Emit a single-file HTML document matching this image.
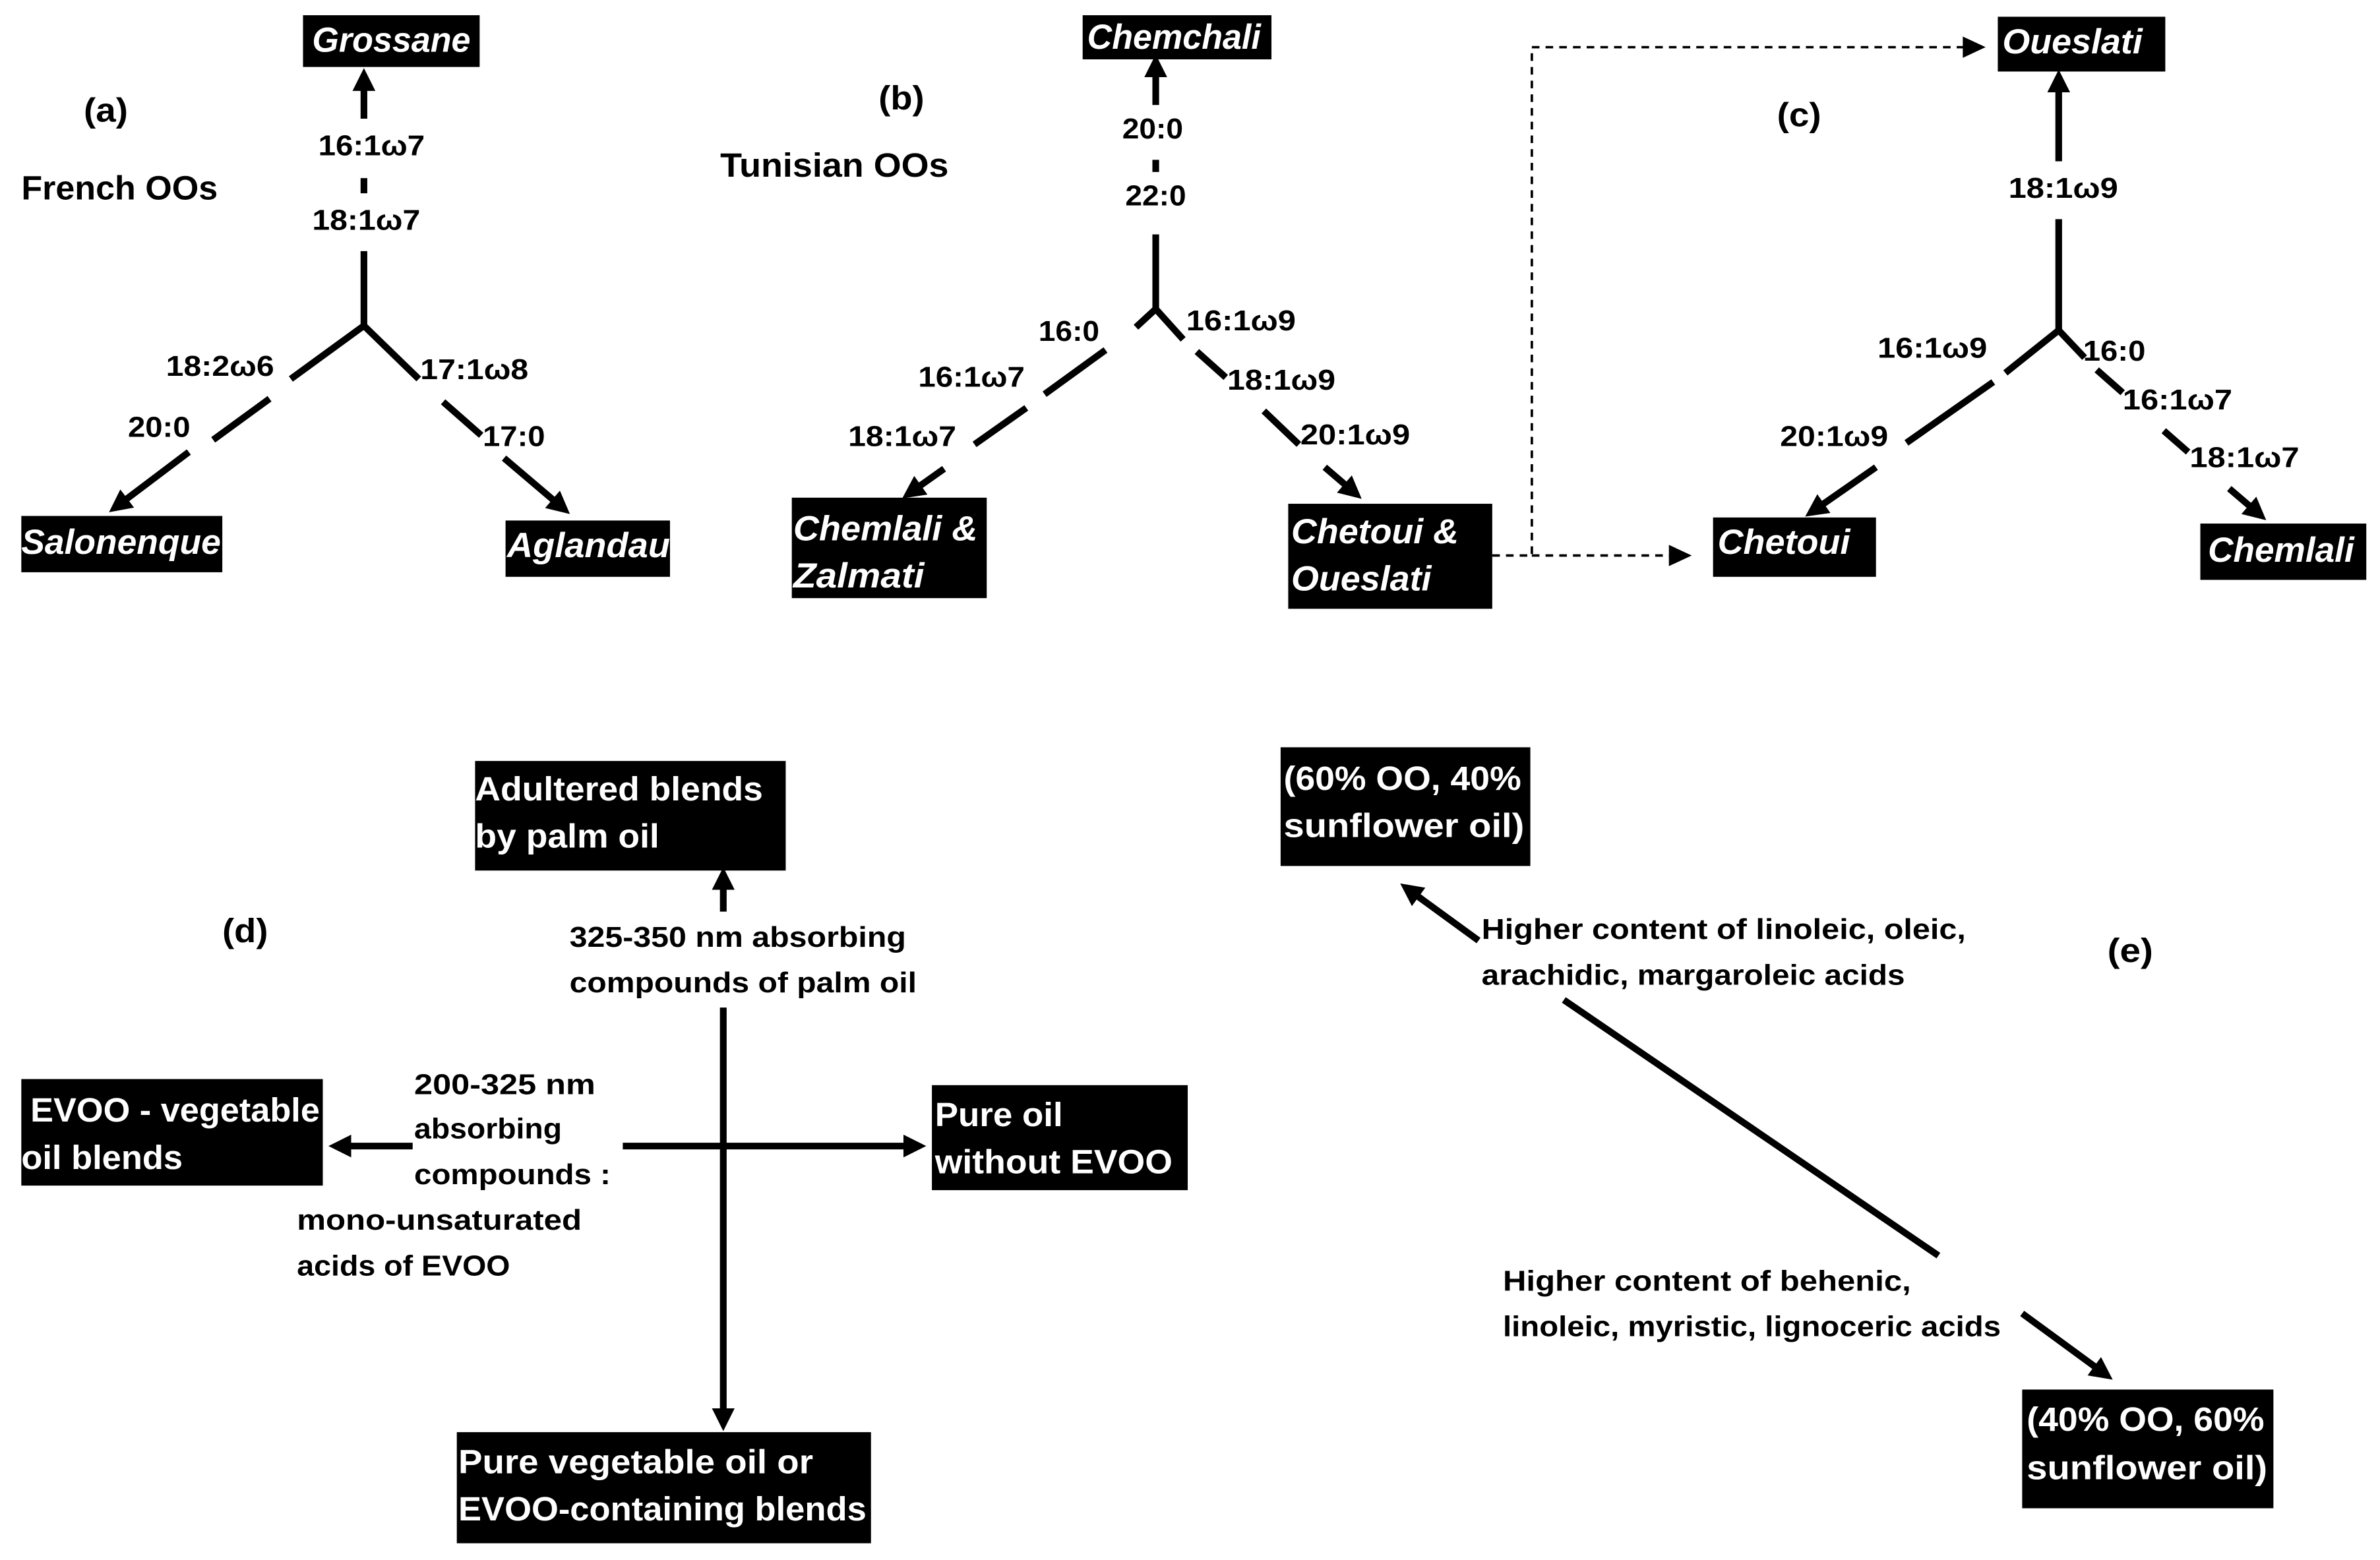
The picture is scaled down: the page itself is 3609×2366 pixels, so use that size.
<!DOCTYPE html>
<html><head><meta charset="utf-8"><style>
html,body{margin:0;padding:0;background:#fff;}
svg{display:block;}
text{font-family:"Liberation Sans",sans-serif;font-weight:bold;}
.l{font-size:19px;fill:#000;}
.b{font-size:22px;fill:#fff;}
.i{font-size:23px;fill:#fff;font-style:italic;}
.ln{stroke:#000;stroke-width:4.4;fill:none;}
.ar{stroke:#000;stroke-width:4.4;fill:none;marker-end:url(#ah);}
.ds{stroke:#000;stroke-width:1.6;fill:none;stroke-dasharray:5,4;}
</style></head><body>
<svg width="3609" height="2366" viewBox="0 0 1563 1025" preserveAspectRatio="none" xmlns="http://www.w3.org/2000/svg">
<defs>
<marker id="ah" markerUnits="userSpaceOnUse" markerWidth="15" markerHeight="15" viewBox="0 0 14 14" refX="10" refY="7" orient="auto"><path d="M0,0 L14,7 L0,14 z" fill="#000"/></marker>
</defs>
<rect width="1563" height="1025" fill="#fff"/>

<!-- (a) -->
<text class="l" x="55" y="80" style="font-size:22px" textLength="29" lengthAdjust="spacingAndGlyphs">(a)</text>
<text class="l" x="14" y="131" style="font-size:22px" textLength="129" lengthAdjust="spacingAndGlyphs">French OOs</text>
<rect x="199" y="10" width="116" height="34" fill="#000"/>
<text class="i" x="205" y="34" textLength="104" lengthAdjust="spacingAndGlyphs">Grossane</text>
<line class="ar" x1="239" y1="78" x2="239" y2="49"/>
<text class="l" x="209" y="102" textLength="70" lengthAdjust="spacingAndGlyphs">16:1ω7</text>
<line class="ln" x1="239" y1="117" x2="239" y2="127"/>
<text class="l" x="205" y="151" textLength="71" lengthAdjust="spacingAndGlyphs">18:1ω7</text>
<line class="ln" x1="239" y1="165" x2="239" y2="214"/>
<polyline class="ln" points="191,249 239,214 275,249"/>
<text class="l" x="109" y="247" textLength="71" lengthAdjust="spacingAndGlyphs">18:2ω6</text>
<line class="ln" x1="177" y1="262" x2="140" y2="289"/>
<text class="l" x="84" y="287" textLength="41" lengthAdjust="spacingAndGlyphs">20:0</text>
<line class="ar" x1="124" y1="297" x2="75" y2="334"/>
<text class="l" x="276" y="249" textLength="71" lengthAdjust="spacingAndGlyphs">17:1ω8</text>
<line class="ln" x1="291" y1="264" x2="316" y2="286"/>
<text class="l" x="317" y="293" textLength="41" lengthAdjust="spacingAndGlyphs">17:0</text>
<line class="ar" x1="331" y1="301" x2="371" y2="335"/>
<rect x="14" y="339" width="132" height="37" fill="#000"/>
<text class="i" x="14" y="364" textLength="131" lengthAdjust="spacingAndGlyphs">Salonenque</text>
<rect x="332" y="342" width="108" height="37" fill="#000"/>
<text class="i" x="333" y="366" textLength="107" lengthAdjust="spacingAndGlyphs">Aglandau</text>

<!-- (b) -->
<text class="l" x="577" y="72" style="font-size:22px" textLength="30" lengthAdjust="spacingAndGlyphs">(b)</text>
<text class="l" x="473" y="116" style="font-size:22px" textLength="150" lengthAdjust="spacingAndGlyphs">Tunisian OOs</text>
<rect x="711" y="10" width="124" height="29" fill="#000"/>
<text class="i" x="714" y="32" textLength="114" lengthAdjust="spacingAndGlyphs">Chemchali</text>
<line class="ar" x1="759" y1="69" x2="759" y2="40"/>
<text class="l" x="737" y="91" textLength="40" lengthAdjust="spacingAndGlyphs">20:0</text>
<line class="ln" x1="759" y1="105" x2="759" y2="113"/>
<text class="l" x="739" y="135" textLength="40" lengthAdjust="spacingAndGlyphs">22:0</text>
<line class="ln" x1="759" y1="154" x2="759" y2="203"/>
<polyline class="ln" points="746,215 759,203 777,223"/>
<text class="l" x="682" y="224" textLength="40" lengthAdjust="spacingAndGlyphs">16:0</text>
<text class="l" x="779" y="217" textLength="72" lengthAdjust="spacingAndGlyphs">16:1ω9</text>
<line class="ln" x1="726" y1="230" x2="686" y2="259"/>
<text class="l" x="603" y="254" textLength="70" lengthAdjust="spacingAndGlyphs">16:1ω7</text>
<line class="ln" x1="674" y1="268" x2="640" y2="292"/>
<text class="l" x="557" y="293" textLength="71" lengthAdjust="spacingAndGlyphs">18:1ω7</text>
<line class="ar" x1="620" y1="308" x2="596" y2="325"/>
<line class="ln" x1="786" y1="231" x2="805" y2="248"/>
<text class="l" x="806" y="256" textLength="71" lengthAdjust="spacingAndGlyphs">18:1ω9</text>
<line class="ln" x1="830" y1="270" x2="853" y2="292"/>
<text class="l" x="854" y="292" textLength="72" lengthAdjust="spacingAndGlyphs">20:1ω9</text>
<line class="ar" x1="870" y1="307" x2="891" y2="325"/>
<rect x="520" y="327" width="128" height="66" fill="#000"/>
<text class="i" x="521" y="355" textLength="121" lengthAdjust="spacingAndGlyphs">Chemlali &amp;</text>
<text class="i" x="521" y="386" textLength="86" lengthAdjust="spacingAndGlyphs">Zalmati</text>
<rect x="846" y="331" width="134" height="69" fill="#000"/>
<text class="i" x="848" y="357" textLength="110" lengthAdjust="spacingAndGlyphs">Chetoui &amp;</text>
<text class="i" x="848" y="388" textLength="92" lengthAdjust="spacingAndGlyphs">Oueslati</text>

<!-- dashed connectors -->
<polyline class="ds" points="980,365 1006,365 1006,31 1292,31"/>
<path d="M1289,24 L1304,31 L1289,38 z" fill="#000"/>
<line class="ds" x1="1006" y1="365" x2="1097" y2="365"/>
<path d="M1096,358 L1111,365 L1096,372 z" fill="#000"/>

<!-- (c) -->
<text class="l" x="1167" y="83" style="font-size:22px" textLength="29" lengthAdjust="spacingAndGlyphs">(c)</text>
<rect x="1312" y="11" width="110" height="36" fill="#000"/>
<text class="i" x="1315" y="35" textLength="92" lengthAdjust="spacingAndGlyphs">Oueslati</text>
<line class="ar" x1="1352" y1="106" x2="1352" y2="50"/>
<text class="l" x="1319" y="130" textLength="72" lengthAdjust="spacingAndGlyphs">18:1ω9</text>
<line class="ln" x1="1352" y1="144" x2="1352" y2="217"/>
<polyline class="ln" points="1317,245 1352,217 1369,235"/>
<text class="l" x="1233" y="235" textLength="72" lengthAdjust="spacingAndGlyphs">16:1ω9</text>
<line class="ln" x1="1309" y1="251" x2="1252" y2="291"/>
<text class="l" x="1169" y="293" textLength="71" lengthAdjust="spacingAndGlyphs">20:1ω9</text>
<line class="ar" x1="1232" y1="307" x2="1189" y2="337"/>
<text class="l" x="1368" y="237" textLength="41" lengthAdjust="spacingAndGlyphs">16:0</text>
<line class="ln" x1="1377" y1="243" x2="1394" y2="258"/>
<text class="l" x="1394" y="269" textLength="72" lengthAdjust="spacingAndGlyphs">16:1ω7</text>
<line class="ln" x1="1421" y1="283" x2="1437" y2="297"/>
<text class="l" x="1438" y="307" textLength="72" lengthAdjust="spacingAndGlyphs">18:1ω7</text>
<line class="ar" x1="1464" y1="321" x2="1485" y2="339"/>
<rect x="1125" y="340" width="107" height="39" fill="#000"/>
<text class="i" x="1128" y="364" textLength="87" lengthAdjust="spacingAndGlyphs">Chetoui</text>
<rect x="1445" y="344" width="109" height="37" fill="#000"/>
<text class="i" x="1450" y="369" textLength="96" lengthAdjust="spacingAndGlyphs">Chemlali</text>

<!-- (d) -->
<text class="l" x="146" y="619" style="font-size:22px" textLength="30" lengthAdjust="spacingAndGlyphs">(d)</text>
<rect x="312" y="500" width="204" height="72" fill="#000"/>
<text class="b" x="312" y="526" textLength="189" lengthAdjust="spacingAndGlyphs">Adultered blends</text>
<text class="b" x="312" y="557" textLength="121" lengthAdjust="spacingAndGlyphs">by palm oil</text>
<line class="ar" x1="475" y1="599" x2="475" y2="574"/>
<text class="l" x="374" y="622" textLength="221" lengthAdjust="spacingAndGlyphs">325-350  nm absorbing</text>
<text class="l" x="374" y="652" textLength="228" lengthAdjust="spacingAndGlyphs">compounds of palm oil</text>
<line class="ar" x1="475" y1="662" x2="475" y2="936"/>
<line class="ar" x1="409" y1="753" x2="604" y2="753"/>
<line class="ar" x1="271" y1="753" x2="220" y2="753"/>
<text class="l" x="272" y="719" textLength="119" lengthAdjust="spacingAndGlyphs">200-325  nm</text>
<text class="l" x="272" y="748" textLength="97" lengthAdjust="spacingAndGlyphs">absorbing</text>
<text class="l" x="272" y="778" textLength="129" lengthAdjust="spacingAndGlyphs">compounds :</text>
<text class="l" x="195" y="808" textLength="187" lengthAdjust="spacingAndGlyphs">mono-unsaturated</text>
<text class="l" x="195" y="838" textLength="140" lengthAdjust="spacingAndGlyphs">acids of EVOO</text>
<rect x="14" y="709" width="198" height="70" fill="#000"/>
<text class="b" x="20" y="737" textLength="190" lengthAdjust="spacingAndGlyphs">EVOO - vegetable</text>
<text class="b" x="14" y="768" textLength="106" lengthAdjust="spacingAndGlyphs">oil blends</text>
<rect x="612" y="713" width="168" height="69" fill="#000"/>
<text class="b" x="614" y="740" textLength="84" lengthAdjust="spacingAndGlyphs">Pure oil</text>
<text class="b" x="614" y="771" textLength="156" lengthAdjust="spacingAndGlyphs">without EVOO</text>
<rect x="300" y="941" width="272" height="73" fill="#000"/>
<text class="b" x="301" y="968" textLength="233" lengthAdjust="spacingAndGlyphs">Pure vegetable oil  or</text>
<text class="b" x="301" y="999" textLength="268" lengthAdjust="spacingAndGlyphs">EVOO-containing blends</text>

<!-- (e) -->
<text class="l" x="1384" y="632" style="font-size:22px" textLength="30" lengthAdjust="spacingAndGlyphs">(e)</text>
<rect x="841" y="491" width="164" height="78" fill="#000"/>
<text class="b" x="843" y="519" textLength="156" lengthAdjust="spacingAndGlyphs">(60% OO, 40%</text>
<text class="b" x="843" y="550" textLength="158" lengthAdjust="spacingAndGlyphs">sunflower oil)</text>
<line class="ar" x1="971" y1="618" x2="923" y2="583"/>
<text class="l" x="973" y="617" textLength="318" lengthAdjust="spacingAndGlyphs">Higher content of linoleic, oleic,</text>
<text class="l" x="973" y="647" textLength="278" lengthAdjust="spacingAndGlyphs">arachidic, margaroleic acids</text>
<line class="ln" x1="1027" y1="657" x2="1273" y2="825"/>
<text class="l" x="987" y="848" textLength="268" lengthAdjust="spacingAndGlyphs">Higher content of behenic,</text>
<text class="l" x="987" y="878" textLength="327" lengthAdjust="spacingAndGlyphs">linoleic, myristic, lignoceric acids</text>
<line class="ar" x1="1328" y1="863" x2="1384" y2="904"/>
<rect x="1328" y="913" width="165" height="78" fill="#000"/>
<text class="b" x="1331" y="940" textLength="156" lengthAdjust="spacingAndGlyphs">(40% OO, 60%</text>
<text class="b" x="1331" y="972" textLength="158" lengthAdjust="spacingAndGlyphs">sunflower oil)</text>
</svg>
</body></html>
